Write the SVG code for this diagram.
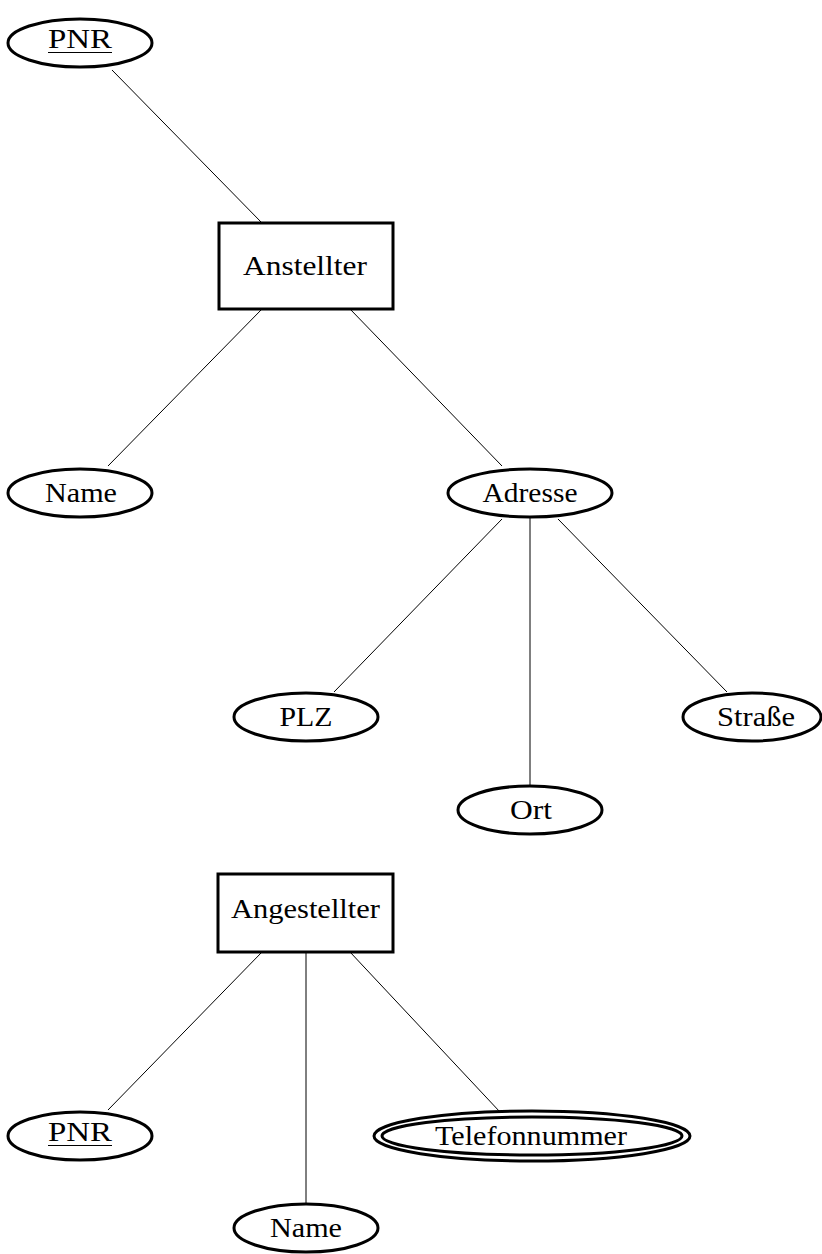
<svg xmlns="http://www.w3.org/2000/svg" width="822" height="1254" viewBox="0 0 822 1254">
  <style>
    .bg { fill: #ffffff; }
    .entity { fill: #ffffff; stroke: #000000; stroke-width: 3; }
    .attr { fill: #ffffff; stroke: #000000; stroke-width: 3; }
    .edge { stroke: #000000; stroke-width: 1; fill: none; }
    .label { font-family: "Liberation Serif", "DejaVu Serif", serif; font-size: 28px; fill: #000000; text-anchor: middle; }
    .key { stroke: #000000; stroke-width: 1.2; }
  </style>
  <rect class="bg" x="0" y="0" width="822" height="1254"/>

  <g id="connectors">
    <line class="edge" x1="112" y1="70" x2="262" y2="223"/>
    <line class="edge" x1="262" y1="309" x2="108" y2="466"/>
    <line class="edge" x1="350" y1="309" x2="502" y2="466"/>
    <line class="edge" x1="502" y1="519" x2="334" y2="692"/>
    <line class="edge" x1="530" y1="517" x2="530" y2="786"/>
    <line class="edge" x1="558" y1="519" x2="727" y2="692"/>
    <line class="edge" x1="262" y1="952" x2="108" y2="1110"/>
    <line class="edge" x1="306" y1="952" x2="306" y2="1204"/>
    <line class="edge" x1="350" y1="952" x2="500" y2="1112"/>
  </g>

  <!-- Anstellter entity and its attributes -->
  <g id="pnr1">
    <ellipse class="attr" cx="80" cy="43" rx="72" ry="24"/>
    <text class="label" x="80" y="48" textLength="64" lengthAdjust="spacingAndGlyphs">PNR</text>
    <line class="key" x1="48" y1="52.5" x2="112" y2="52.5"/>
  </g>
  <g id="anstellter">
    <rect class="entity" x="219" y="223" width="174" height="86"/>
    <text class="label" x="305" y="275" textLength="124" lengthAdjust="spacingAndGlyphs">Anstellter</text>
  </g>
  <g id="name1">
    <ellipse class="attr" cx="80" cy="493" rx="72" ry="24"/>
    <text class="label" x="81" y="502" textLength="72" lengthAdjust="spacingAndGlyphs">Name</text>
  </g>
  <g id="adresse">
    <ellipse class="attr" cx="530" cy="493" rx="82" ry="24"/>
    <text class="label" x="530" y="502" textLength="95" lengthAdjust="spacingAndGlyphs">Adresse</text>
  </g>
  <g id="plz">
    <ellipse class="attr" cx="306" cy="717" rx="72" ry="24"/>
    <text class="label" x="306" y="726" textLength="53" lengthAdjust="spacingAndGlyphs">PLZ</text>
  </g>
  <g id="ort">
    <ellipse class="attr" cx="530" cy="810" rx="72" ry="24"/>
    <text class="label" x="531" y="819" textLength="42" lengthAdjust="spacingAndGlyphs">Ort</text>
  </g>
  <g id="strasse">
    <ellipse class="attr" cx="752" cy="717" rx="69" ry="24"/>
    <text class="label" x="756" y="726" textLength="78" lengthAdjust="spacingAndGlyphs">Straße</text>
  </g>

  <!-- Angestellter entity and its attributes -->
  <g id="angestellter">
    <rect class="entity" x="218" y="874" width="175" height="78"/>
    <text class="label" x="305.5" y="918" textLength="149" lengthAdjust="spacingAndGlyphs">Angestellter</text>
  </g>
  <g id="pnr2">
    <ellipse class="attr" cx="80" cy="1136" rx="72" ry="24"/>
    <text class="label" x="80" y="1141" textLength="64" lengthAdjust="spacingAndGlyphs">PNR</text>
    <line class="key" x1="48" y1="1145.5" x2="112" y2="1145.5"/>
  </g>
  <g id="telefonnummer">
    <ellipse class="attr" cx="532" cy="1136" rx="158" ry="25"/>
    <ellipse class="attr" cx="532" cy="1136" rx="150" ry="19"/>
    <text class="label" x="531" y="1145" textLength="192" lengthAdjust="spacingAndGlyphs">Telefonnummer</text>
  </g>
  <g id="name2">
    <ellipse class="attr" cx="306" cy="1228" rx="72" ry="24"/>
    <text class="label" x="306" y="1237" textLength="72" lengthAdjust="spacingAndGlyphs">Name</text>
  </g>
</svg>
